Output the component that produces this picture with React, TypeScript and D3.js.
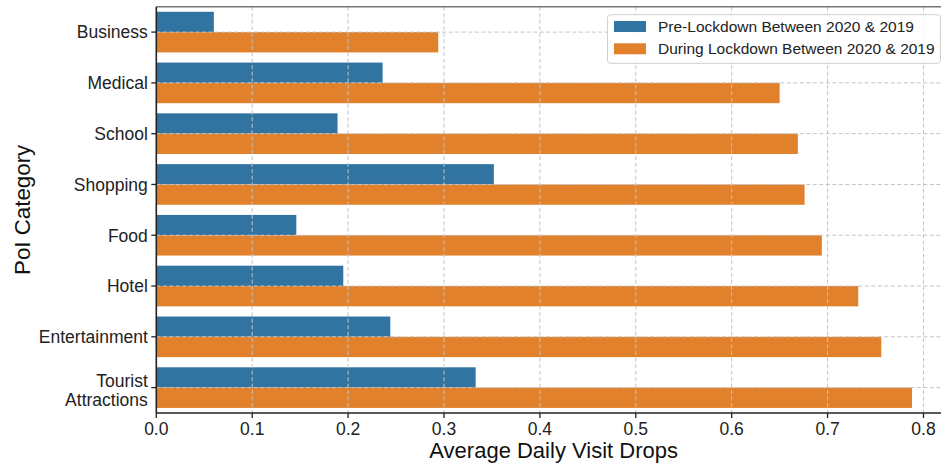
import React from "react";
import * as d3 from "d3";

const categories = ["Business", "Medical", "School", "Shopping", "Food", "Hotel", "Entertainment", "Tourist\nAttractions"];
const preLockdown = [0.060, 0.236, 0.189, 0.352, 0.146, 0.195, 0.244, 0.333];
const duringLockdown = [0.294, 0.650, 0.669, 0.676, 0.694, 0.732, 0.756, 0.788];
const seriesNames = ["Pre-Lockdown Between 2020 & 2019", "During Lockdown Between 2020 & 2019"];
const xTicks = [0, 0.1, 0.2, 0.3, 0.4, 0.5, 0.6, 0.7, 0.8];

const W = 941, H = 466;
const left = 156.3, right = 951, top = 6.7, bottom = 413;
const colors = ["#3274a1", "#e1812c"];
const FONT = "'Liberation Sans', Arial, Helvetica, sans-serif";

export default function App() {
  const x = d3.scaleLinear().domain([0, 0.8287]).range([left, right]);
  const y = d3.scaleBand<number>().domain(d3.range(categories.length)).range([top, bottom]).paddingInner(0).paddingOuter(0);
  const bw = y.bandwidth();
  const barH = bw * 0.4;
  const series = [preLockdown, duringLockdown];

  return (
    <svg width={W} height={H} style={{ position: "absolute", left: 0, top: 0, background: "#fff" }} fontFamily={FONT}>
      <defs>
        <clipPath id="plotclip">
          <rect x={left} y={top} width={right - left} height={bottom - top} />
        </clipPath>
      </defs>
      {/* bars */}
      <g clipPath="url(#plotclip)">
        {series.map((vals, si) =>
          vals.map((v, i) => {
            const c = (y(i) as number) + bw / 2;
            const y0 = c - barH + si * barH;
            return <rect key={`${si}-${i}`} x={x(0)} y={y0} width={x(v) - x(0)} height={barH} fill={colors[si]} />;
          })
        )}
        {/* grid */}
        {xTicks.map((t) => (
          <line key={`gx${t}`} x1={x(t)} x2={x(t)} y1={top} y2={bottom} stroke="#c4c4c4" strokeWidth={1} strokeDasharray="4,2.5" />
        ))}
        {categories.map((_, i) => {
          const c = (y(i) as number) + bw / 2;
          return <line key={`gy${i}`} x1={left} x2={right} y1={c} y2={c} stroke="#c4c4c4" strokeWidth={1} strokeDasharray="4,2.5" />;
        })}
      </g>
      {/* spines */}
      <line x1={left} x2={right} y1={top} y2={top} stroke="#777" strokeWidth={1.6} />
      <line x1={left} x2={left} y1={top} y2={bottom} stroke="#222" strokeWidth={1.6} />
      <line x1={left} x2={right} y1={bottom} y2={bottom} stroke="#222" strokeWidth={1.6} />
      {/* x ticks */}
      {xTicks.map((t) => (
        <g key={`xt${t}`}>
          <line x1={x(t)} x2={x(t)} y1={bottom} y2={bottom + 5} stroke="#222" strokeWidth={1.3} />
          <text x={x(t)} y={bottom + 22} fontSize={17.5} textAnchor="middle" fill="#222">{d3.format(".1f")(t)}</text>
        </g>
      ))}
      {/* y ticks */}
      {categories.map((cat, i) => {
        const c = (y(i) as number) + bw / 2;
        const lines = cat.split("\n");
        return (
          <g key={`yt${i}`}>
            <line x1={left - 5} x2={left} y1={c} y2={c} stroke="#222" strokeWidth={1.3} />
            {lines.length === 1 ? (
              <text x={left - 8.5} y={c + 6.3} fontSize={17.5} textAnchor="end" fill="#222">{cat}</text>
            ) : (
              lines.map((ln, k) => (
                <text key={k} x={left - 8.5} y={c - 1 + k * 19} fontSize={17.5} textAnchor="end" fill="#222">{ln}</text>
              ))
            )}
          </g>
        );
      })}
      {/* axis labels */}
      <text x={(left + right) / 2} y={458} fontSize={22} textAnchor="middle" fill="#111">Average Daily Visit Drops</text>
      <text transform={`translate(29.5,${(top + bottom) / 2}) rotate(-90)`} fontSize={22.3} textAnchor="middle" fill="#111">PoI Category</text>
      {/* legend */}
      <g>
        <rect x={607.5} y={14.7} width={333} height={48.6} rx={3} fill="#fff" fillOpacity={0.85} stroke="#d0d0d0" strokeWidth={1} />
        {seriesNames.map((n, i) => (
          <g key={n}>
            <rect x={614} y={21 + i * 22.3} width={32} height={11} fill={colors[i]} />
            <text x={658} y={32 + i * 22.3} fontSize={15.5} fill="#222">{n}</text>
          </g>
        ))}
      </g>
    </svg>
  );
}
